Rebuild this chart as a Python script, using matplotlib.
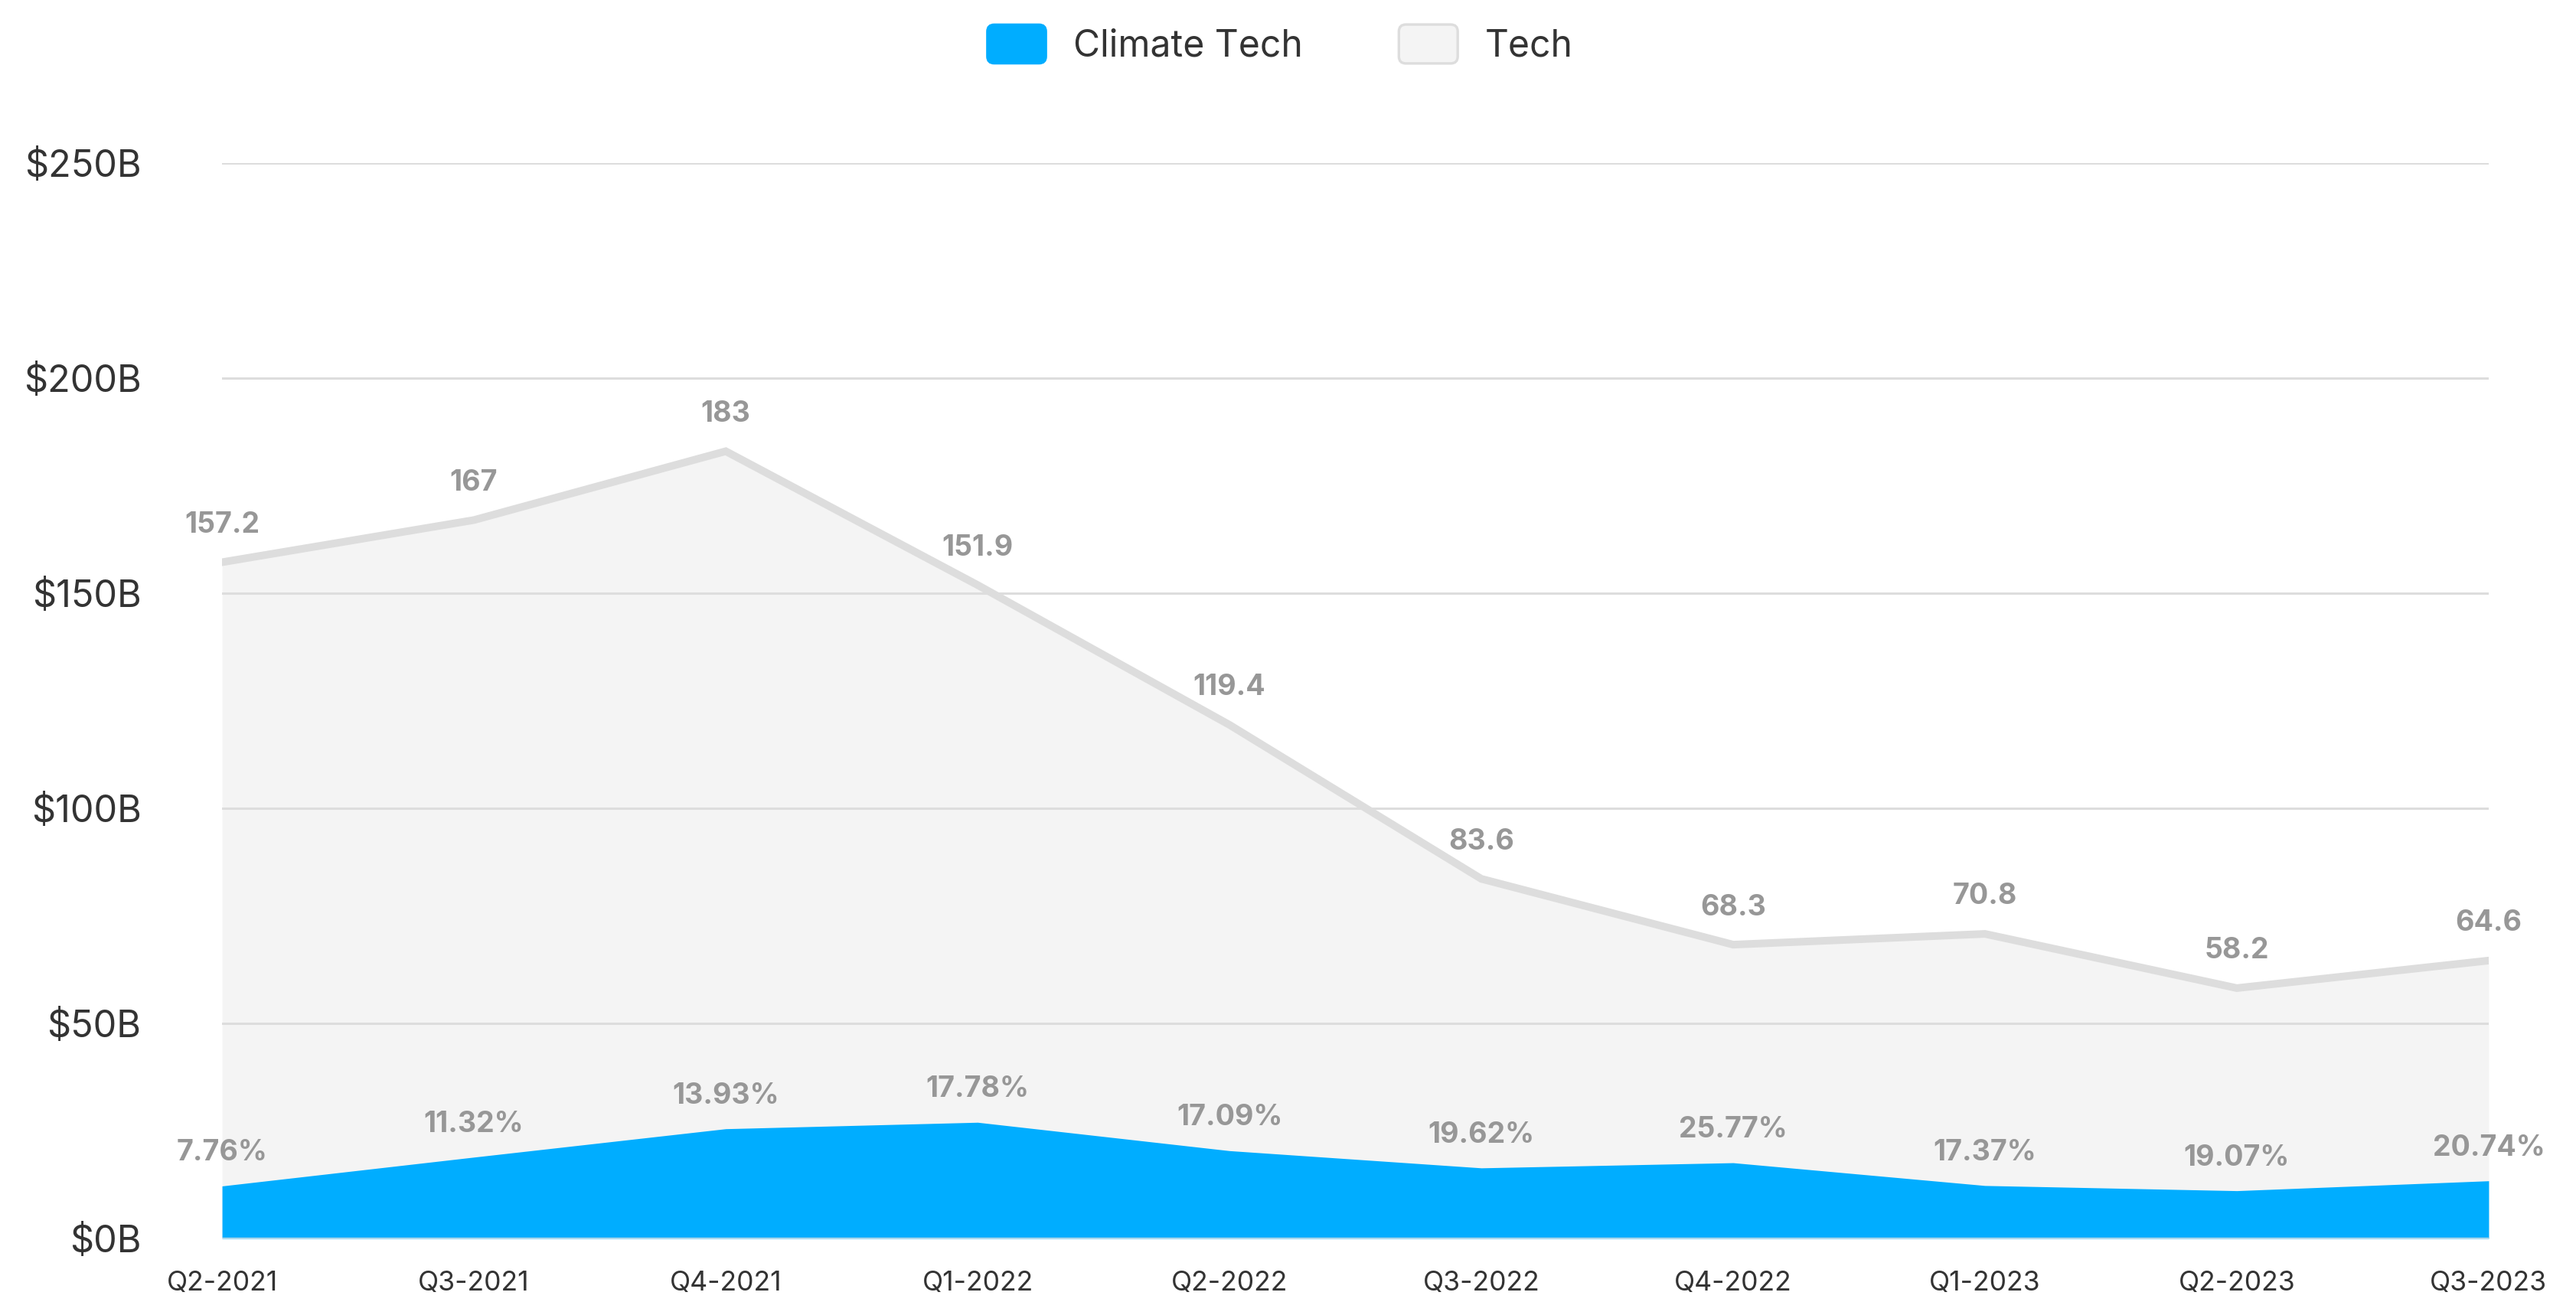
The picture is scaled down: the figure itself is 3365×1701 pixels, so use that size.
import matplotlib
matplotlib.use("Agg")
import matplotlib.pyplot as plt
from matplotlib.patches import Patch, FancyBboxPatch
from matplotlib.legend_handler import HandlerPatch

plt.rcParams['font.family'] = ['Inter', 'DejaVu Sans']

# data
quarters = ['Q2-2021', 'Q3-2021', 'Q4-2021', 'Q1-2022', 'Q2-2022',
            'Q3-2022', 'Q4-2022', 'Q1-2023', 'Q2-2023', 'Q3-2023']
tech = [157.2, 167, 183, 151.9, 119.4, 83.6, 68.3, 70.8, 58.2, 64.6]
climate = [12.2, 18.9, 25.5, 27.0, 20.4, 16.4, 17.6, 12.3, 11.1, 13.4]
climate_share = ['7.76%', '11.32%', '13.93%', '17.78%', '17.09%',
                 '19.62%', '25.77%', '17.37%', '19.07%', '20.74%']
tech_labels = ['157.2', '167', '183', '151.9', '119.4',
               '83.6', '68.3', '70.8', '58.2', '64.6']
yticks = [0, 50, 100, 150, 200, 250]

BLUE = '#00adff'
TECH_FILL = '#f4f4f4'
TECH_LINE = '#dddddd'
GRID = '#dddddd'
LABEL = '#979797'
TEXT = '#333333'


def rounded_patch(legend, orig_handle, xdescent, ydescent, width, height, fontsize):
    # legend swatch with soft corners
    return FancyBboxPatch((-xdescent, -ydescent), width, height,
                          boxstyle='round,pad=0,rounding_size=%f' % (height * 0.18))


fig = plt.figure(figsize=(16.825, 8.505), dpi=200)
ax = fig.add_axes([0.0862, 0.0488, 0.8799, 0.826])

x = list(range(len(quarters)))
ax.fill_between(x, 0, tech, color=TECH_FILL, lw=0, zorder=1)
ax.fill_between(x, 0, climate, color=BLUE, lw=0, zorder=1.5)
ax.plot(x, tech, color=TECH_LINE, lw=3.6, zorder=3, solid_joinstyle='miter')

for xi, v, s in zip(x, tech, tech_labels):
    ax.annotate(s, (xi, v), xytext=(0, 17.5), textcoords='offset points',
                ha='center', va='center', fontsize=13.5, fontweight='bold',
                color=LABEL, zorder=5, annotation_clip=False)
for xi, v, s in zip(x, climate, climate_share):
    ax.annotate(s, (xi, v), xytext=(0, 15.5), textcoords='offset points',
                ha='center', va='center', fontsize=13.5, fontweight='bold',
                color=LABEL, zorder=5, annotation_clip=False)

ax.set_xlim(0, len(quarters) - 1)
ax.set_ylim(0, 250)
ax.set_yticks(yticks)
ax.set_yticklabels(['$%dB' % t for t in yticks])
ax.set_xticks(x)
ax.set_xticklabels(quarters)
ax.tick_params(axis='y', length=0, pad=38, labelsize=17.5, labelcolor=TEXT)
ax.tick_params(axis='x', length=0, pad=15, labelsize=12.8, labelcolor=TEXT)
ax.grid(axis='y', color=GRID, lw=1.1, zorder=2)
ax.set_axisbelow(False)
for sp in ax.spines.values():
    sp.set_visible(False)

handles = [Patch(facecolor=BLUE, edgecolor=BLUE, label='Climate Tech'),
           Patch(facecolor=TECH_FILL, edgecolor=TECH_LINE, lw=1.2, label='Tech')]
fig.legend(handles=handles, loc='center', bbox_to_anchor=(0.497, 0.966), ncol=2,
           frameon=False, fontsize=17.3, labelcolor=TEXT, handlelength=1.6,
           handleheight=1.25, handletextpad=0.75, columnspacing=2.6,
           handler_map={Patch: HandlerPatch(patch_func=rounded_patch)})

fig.savefig('out.png', dpi=200, facecolor='white')
